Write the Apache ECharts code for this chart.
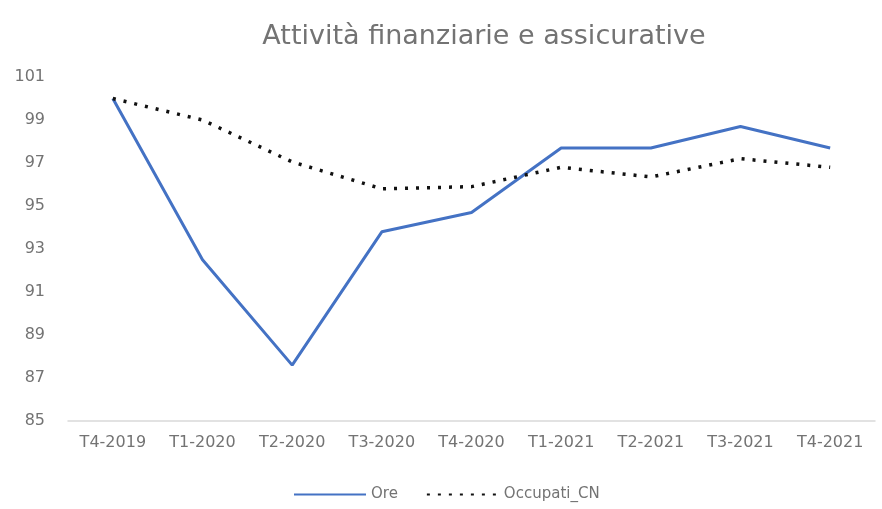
<!DOCTYPE html>
<html>
<head>
<meta charset="utf-8">
<script src="https://cdn.jsdelivr.net/npm/echarts@6/dist/echarts.min.js"></script>
<style>html,body{margin:0;padding:0;background:#fff}#c{width:882px;height:509px}</style>
</head>
<body>
<div id="c"></div>
<script>
const titleText = 'Attività finanziarie e assicurative';
const categories = ['T4-2019','T1-2020','T2-2020','T3-2020','T4-2020','T1-2021','T2-2021','T3-2021','T4-2021'];
const ore = [100.0, 92.5, 87.6, 93.8, 94.7, 97.7, 97.7, 98.7, 97.7];
const occupati = [100.0, 99.0, 97.05, 95.8, 95.9, 96.8, 96.35, 97.2, 96.8];
const yMin = 85, yMax = 101, yStep = 2;

const FONT = 'DejaVu Sans';
const TXT = '#737373';
const chart = echarts.init(document.getElementById('c'), null, {renderer: 'canvas'});
chart.setOption({
  backgroundColor: '#ffffff',
  animation: false,
  textStyle: {fontFamily: FONT},
  title: {
    text: titleText,
    left: 479, top: 18, textAlign: 'center',
    textStyle: {fontFamily: FONT, fontSize: 27, fontWeight: 'normal', color: TXT}
  },
  legend: {
    top: 482, left: 288,
    itemWidth: 72, itemHeight: 12, itemGap: 28,
    textStyle: {fontFamily: FONT, fontSize: 15, color: TXT},
    data: [
      {name: 'Ore', itemStyle: {opacity: 0}},
      {name: 'Occupati_CN', itemStyle: {opacity: 0}}
    ]
  },
  grid: {left: 68, right: 7, top: 77, bottom: 88, containLabel: false},
  xAxis: {
    type: 'category', data: categories, boundaryGap: true,
    axisLine: {lineStyle: {color: '#d9d9d9', width: 1.5}},
    axisTick: {show: false},
    axisLabel: {color: TXT, fontSize: 16, margin: 14, fontFamily: FONT}
  },
  yAxis: {
    type: 'value', min: yMin, max: yMax, interval: yStep,
    axisLine: {show: false}, axisTick: {show: false},
    splitLine: {show: false},
    axisLabel: {color: TXT, fontSize: 16, margin: 23, fontFamily: FONT}
  },
  series: [
    {name: 'Ore', type: 'line', data: ore, symbol: 'none',
     lineStyle: {color: '#4472C4', width: 3}, itemStyle: {color: '#4472C4'}},
    {name: 'Occupati_CN', type: 'line', data: occupati, symbol: 'none',
     lineStyle: {color: '#111111', width: 3.5, type: [3, 8]}, itemStyle: {color: '#111111'}}
  ]
});
</script>
</body>
</html>
